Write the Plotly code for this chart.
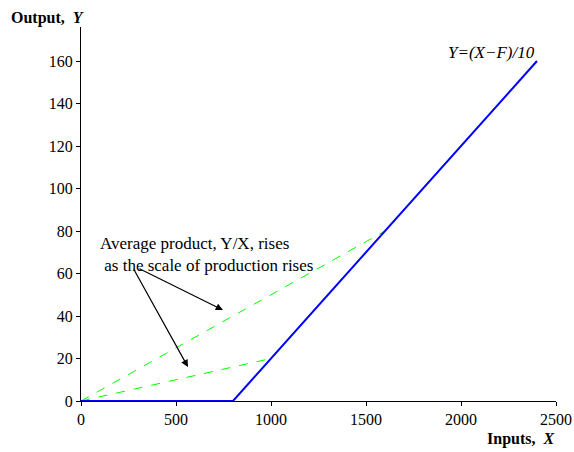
import plotly.graph_objects as go

# Data
x_prod = [0, 800, 2400]
y_prod = [0, 0, 160]
x_ap1 = [0, 1000]
y_ap1 = [0, 20]
x_ap2 = [0, 1600]
y_ap2 = [0, 80]
x_ticks = [0, 500, 1000, 1500, 2000, 2500]
y_ticks = [0, 20, 40, 60, 80, 100, 120, 140, 160]

FONT = "Liberation Serif"

W, H = 574, 452
L, R, T, B = 81, 18, 27, 51
PW, PH = W - L - R, H - T - B

fig = go.Figure()
fig.add_trace(go.Scatter(x=x_ap1, y=y_ap1, mode="lines",
                         line=dict(color="#00ff00", width=1, dash="dash")))
fig.add_trace(go.Scatter(x=x_ap2, y=y_ap2, mode="lines",
                         line=dict(color="#00ff00", width=1, dash="dash")))
fig.add_trace(go.Scatter(x=x_prod, y=y_prod, mode="lines",
                         line=dict(color="#0000ff", width=2)))

ann = []
ann.append(dict(x=2400, y=164, xref="x", yref="y", text="<i>Y=(X−F)/10</i>",
                showarrow=False, xanchor="right", yanchor="middle",
                font=dict(family=FONT, size=17, color="black")))
ann.append(dict(x=663, y=69, xref="x", yref="y",
                text="Average product, Y/X, rises<br> as the scale of production rises",
                showarrow=False, xanchor="center", yanchor="middle", align="left",
                font=dict(family=FONT, size=17, color="black")))
ann.append(dict(x=747, y=42.8, ax=300, ay=62.6, xref="x", yref="y", axref="x", ayref="y",
                text="", showarrow=True, arrowhead=2, arrowsize=1.2, arrowwidth=1.2,
                arrowcolor="black"))
ann.append(dict(x=563, y=16, ax=274, ay=62.6, xref="x", yref="y", axref="x", ayref="y",
                text="", showarrow=True, arrowhead=2, arrowsize=1.2, arrowwidth=1.2,
                arrowcolor="black"))
ann.append(dict(x=(86 - L) / PW, y=(T + PH - 18) / PH, xref="paper", yref="paper",
                text="<b>Output,  <i>Y</i></b>", showarrow=False,
                xanchor="right", yanchor="middle",
                font=dict(family=FONT, size=16, color="black")))
ann.append(dict(x=1.0, y=(T + PH - 439) / PH, xref="paper", yref="paper",
                text="<b>Inputs,  <i>X</i></b>", showarrow=False,
                xanchor="right", yanchor="middle",
                font=dict(family=FONT, size=16, color="black")))

fig.update_layout(
    width=W, height=H,
    margin=dict(l=L, r=R, t=T, b=B),
    paper_bgcolor="white", plot_bgcolor="white",
    showlegend=False,
    font=dict(family=FONT, size=16, color="black"),
    annotations=ann,
    xaxis=dict(range=[0, 2500], tickvals=x_ticks, showgrid=False, zeroline=False,
               showline=True, linecolor="black", linewidth=1, automargin=False,
               ticks="outside", ticklen=4, tickcolor="black"),
    yaxis=dict(range=[0, 176], tickvals=y_ticks, showgrid=False, zeroline=False,
               showline=True, linecolor="black", linewidth=1, automargin=False,
               ticks="outside", ticklen=4, tickcolor="black"),
)

fig.write_html("out.html", config={"displayModeBar": False},
               post_script="document.body.style.margin='0';document.body.style.overflow='hidden';")
